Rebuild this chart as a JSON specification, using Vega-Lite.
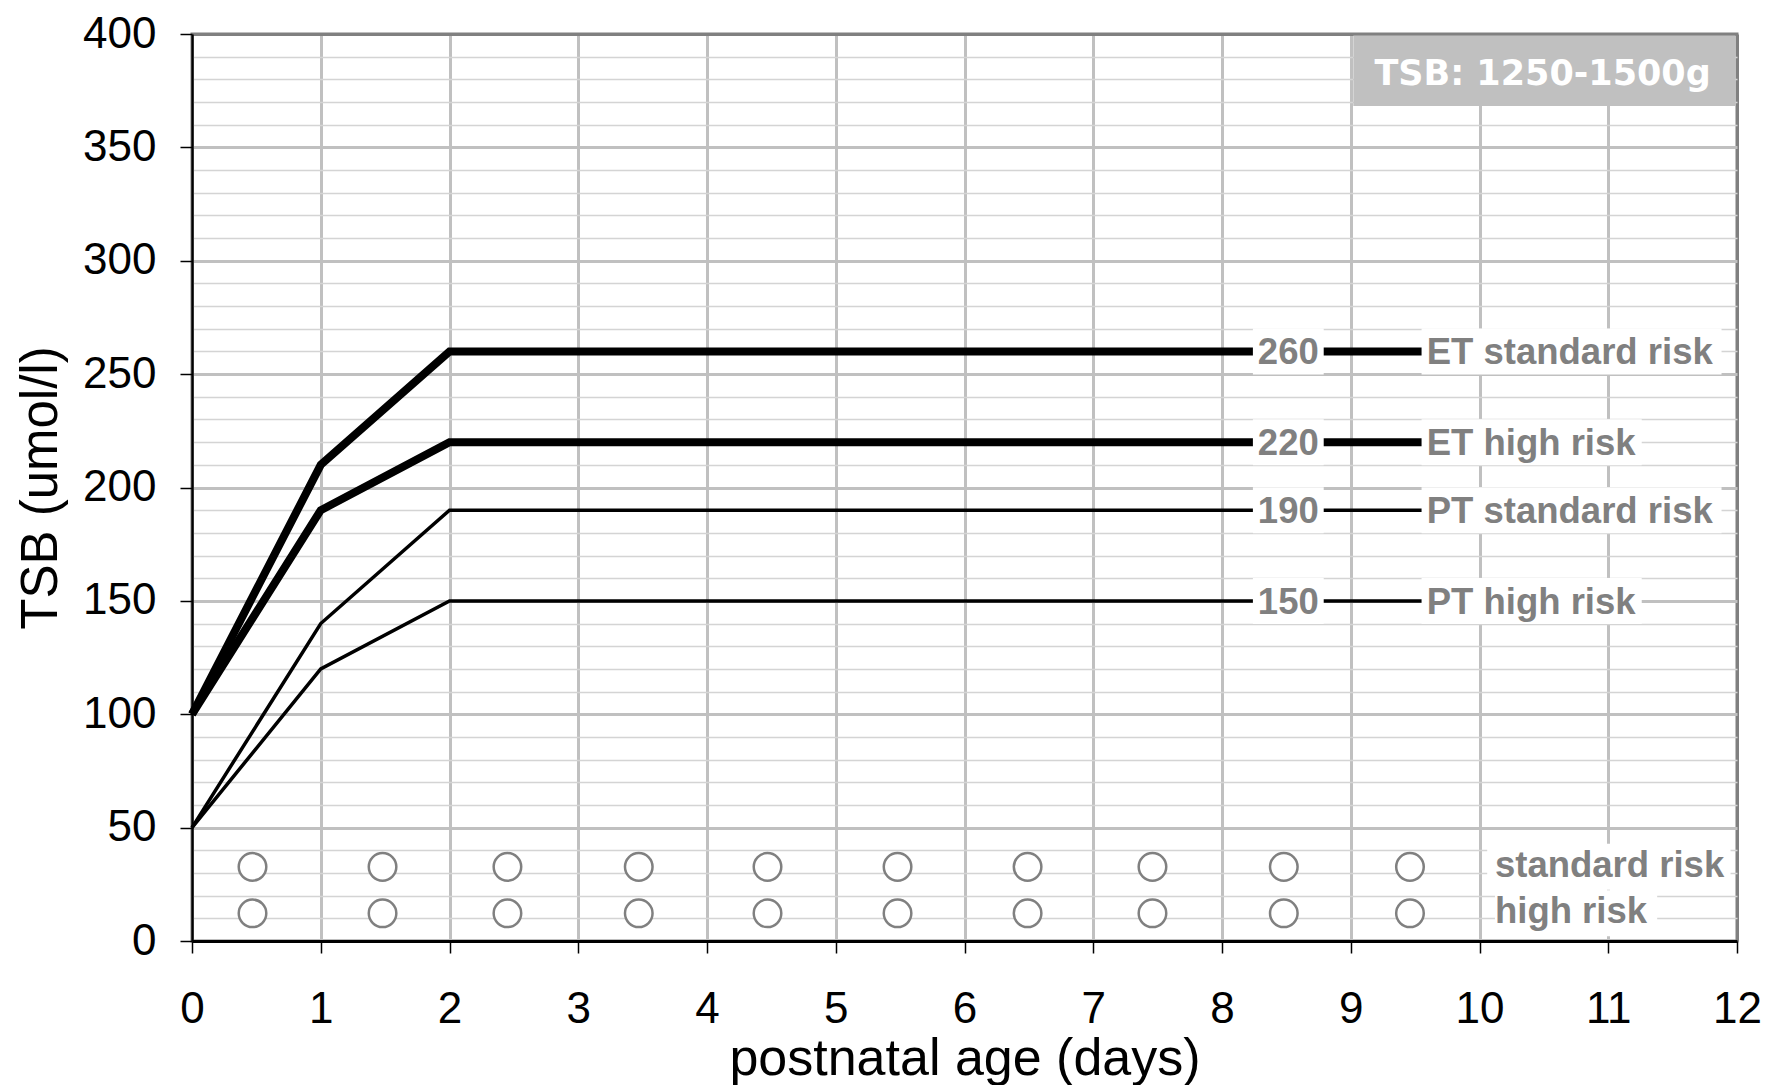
{
  "$schema": "https://vega.github.io/schema/vega-lite/v6.json",
  "width": 1545,
  "height": 907,
  "autosize": {"type": "none"},
  "padding": {"left": 192, "top": 34, "right": 34, "bottom": 144},
  "background": "white",
  "config": {
    "font": "Liberation Sans",
    "view": {"stroke": "#808080", "strokeWidth": 3},
    "text": {"font": "Liberation Sans", "fontWeight": "bold", "fontSize": 36.5, "color": "#808080"}
  },
  "datasets": {
    "curves": [
      {"series": "ET standard risk", "type": "ET", "day": 0, "tsb": 100},
      {"series": "ET standard risk", "type": "ET", "day": 1, "tsb": 210},
      {"series": "ET standard risk", "type": "ET", "day": 2, "tsb": 260},
      {"series": "ET standard risk", "type": "ET", "day": 10, "tsb": 260},
      {"series": "ET high risk", "type": "ET", "day": 0, "tsb": 100},
      {"series": "ET high risk", "type": "ET", "day": 1, "tsb": 190},
      {"series": "ET high risk", "type": "ET", "day": 2, "tsb": 220},
      {"series": "ET high risk", "type": "ET", "day": 10, "tsb": 220},
      {"series": "PT standard risk", "type": "PT", "day": 0, "tsb": 50},
      {"series": "PT standard risk", "type": "PT", "day": 1, "tsb": 140},
      {"series": "PT standard risk", "type": "PT", "day": 2, "tsb": 190},
      {"series": "PT standard risk", "type": "PT", "day": 10, "tsb": 190},
      {"series": "PT high risk", "type": "PT", "day": 0, "tsb": 50},
      {"series": "PT high risk", "type": "PT", "day": 1, "tsb": 120},
      {"series": "PT high risk", "type": "PT", "day": 2, "tsb": 150},
      {"series": "PT high risk", "type": "PT", "day": 10, "tsb": 150}
    ],
    "markers": [
      {"risk": "standard risk", "day": 0.47, "tsb": 32.7},
      {"risk": "standard risk", "day": 1.48, "tsb": 32.7},
      {"risk": "standard risk", "day": 2.45, "tsb": 32.7},
      {"risk": "standard risk", "day": 3.47, "tsb": 32.7},
      {"risk": "standard risk", "day": 4.47, "tsb": 32.7},
      {"risk": "standard risk", "day": 5.48, "tsb": 32.7},
      {"risk": "standard risk", "day": 6.49, "tsb": 32.7},
      {"risk": "standard risk", "day": 7.46, "tsb": 32.7},
      {"risk": "standard risk", "day": 8.48, "tsb": 32.7},
      {"risk": "standard risk", "day": 9.46, "tsb": 32.7},
      {"risk": "high risk", "day": 0.47, "tsb": 12.2},
      {"risk": "high risk", "day": 1.48, "tsb": 12.2},
      {"risk": "high risk", "day": 2.45, "tsb": 12.2},
      {"risk": "high risk", "day": 3.47, "tsb": 12.2},
      {"risk": "high risk", "day": 4.47, "tsb": 12.2},
      {"risk": "high risk", "day": 5.48, "tsb": 12.2},
      {"risk": "high risk", "day": 6.49, "tsb": 12.2},
      {"risk": "high risk", "day": 7.46, "tsb": 12.2},
      {"risk": "high risk", "day": 8.48, "tsb": 12.2},
      {"risk": "high risk", "day": 9.46, "tsb": 12.2}
    ],
    "chartTitle": [{"label": "TSB: 1250-1500g"}]
  },
  "layer": [
    {
      "data": {"name": "curves"},
      "mark": {"type": "line", "color": "black", "strokeJoin": "miter", "strokeCap": "butt"},
      "encoding": {
        "x": {
          "field": "day", "type": "quantitative",
          "scale": {"domain": [0, 12], "nice": false, "zero": false},
          "axis": {
            "title": "postnatal age (days)",
            "values": [0, 1, 2, 3, 4, 5, 6, 7, 8, 9, 10, 11, 12],
            "tickCount": 100,
            "format": "d",
            "titleFont": "Liberation Sans", "titleFontSize": 52, "titleFontWeight": "normal", "titleColor": "black", "titlePadding": 2,
            "labelFont": "Liberation Sans", "labelFontSize": 44, "labelColor": "black", "labelPadding": 34,
            "labelFlush": false, "labelOverlap": false,
            "tickSize": 12, "tickColor": "black", "tickWidth": 1.5,
            "domainColor": "black", "domainWidth": 3,
            "grid": true,
            "gridColor": {"condition": {"test": "datum.value === 12", "value": "#808080"}, "value": "#c0c0c0"},
            "gridWidth": 3
          }
        },
        "y": {
          "field": "tsb", "type": "quantitative",
          "scale": {"domain": [0, 400], "nice": false, "zero": true},
          "axis": {
            "title": "TSB (umol/l)",
            "values": [0, 10, 20, 30, 40, 50, 60, 70, 80, 90, 100, 110, 120, 130, 140, 150, 160, 170, 180, 190, 200, 210, 220, 230, 240, 250, 260, 270, 280, 290, 300, 310, 320, 330, 340, 350, 360, 370, 380, 390, 400],
            "tickCount": 100,
            "format": "d",
            "labelExpr": "datum.value % 50 === 0 ? datum.label : ''",
            "titleFont": "Liberation Sans", "titleFontSize": 51, "titleFontWeight": "normal", "titleColor": "black", "titlePadding": 15,
            "labelFont": "Liberation Sans", "labelFontSize": 44, "labelColor": "black", "labelPadding": 24,
            "labelFlush": false, "labelOverlap": false,
            "tickSize": 12, "tickColor": "black", "tickWidth": 1.5,
            "tickOpacity": {"condition": {"test": "datum.value % 50 !== 0", "value": 0}, "value": 1},
            "domainColor": "black", "domainWidth": 2.5,
            "grid": true,
            "gridColor": {"condition": [{"test": "datum.value === 400", "value": "#808080"}, {"test": "datum.value % 50 === 0", "value": "#c0c0c0"}], "value": "#d4d4d4"},
            "gridWidth": {"condition": {"test": "datum.value % 50 === 0", "value": 3}, "value": 1.5}
          }
        },
        "detail": {"field": "series", "type": "nominal"},
        "strokeWidth": {"condition": {"test": "datum.type === 'ET'", "value": 8}, "value": 3.5}
      }
    },
    {
      "data": {"name": "curves"},
      "transform": [{"filter": "datum.day === 10"}],
      "mark": {"type": "rule", "color": "white", "strokeWidth": 46, "strokeCap": "butt"},
      "encoding": {
        "x": {"datum": 8.24, "type": "quantitative"},
        "x2": {"datum": 8.79},
        "y": {"field": "tsb", "type": "quantitative"}
      }
    },
    {
      "data": {"name": "curves"},
      "transform": [{"filter": "datum.day === 10 && indexof(datum.series, 'standard') >= 0"}],
      "mark": {"type": "rule", "color": "white", "strokeWidth": 46, "strokeCap": "butt"},
      "encoding": {
        "x": {"datum": 9.55, "type": "quantitative"},
        "x2": {"datum": 11.88},
        "y": {"field": "tsb", "type": "quantitative"}
      }
    },
    {
      "data": {"name": "curves"},
      "transform": [{"filter": "datum.day === 10 && indexof(datum.series, 'high') >= 0"}],
      "mark": {"type": "rule", "color": "white", "strokeWidth": 46, "strokeCap": "butt"},
      "encoding": {
        "x": {"datum": 9.55, "type": "quantitative"},
        "x2": {"datum": 11.26},
        "y": {"field": "tsb", "type": "quantitative"}
      }
    },
    {
      "data": {"name": "curves"},
      "transform": [{"filter": "datum.day === 10"}],
      "mark": {"type": "text", "align": "center", "baseline": "middle", "dy": 2},
      "encoding": {
        "x": {"datum": 8.515, "type": "quantitative"},
        "y": {"field": "tsb", "type": "quantitative"},
        "text": {"field": "tsb", "type": "quantitative"}
      }
    },
    {
      "data": {"name": "curves"},
      "transform": [{"filter": "datum.day === 10"}],
      "mark": {"type": "text", "align": "left", "baseline": "middle", "dy": 2},
      "encoding": {
        "x": {"datum": 9.59, "type": "quantitative"},
        "y": {"field": "tsb", "type": "quantitative"},
        "text": {"field": "series", "type": "nominal"}
      }
    },
    {
      "data": {"name": "markers"},
      "transform": [{"filter": "datum.day > 9 && datum.risk === 'standard risk'"}],
      "mark": {"type": "rule", "color": "white", "strokeWidth": 46, "strokeCap": "butt"},
      "encoding": {
        "x": {"datum": 10.06, "type": "quantitative"},
        "x2": {"datum": 11.95},
        "y": {"field": "tsb", "type": "quantitative"}
      }
    },
    {
      "data": {"name": "markers"},
      "transform": [{"filter": "datum.day > 9 && datum.risk === 'high risk'"}],
      "mark": {"type": "rule", "color": "white", "strokeWidth": 46, "strokeCap": "butt"},
      "encoding": {
        "x": {"datum": 10.12, "type": "quantitative"},
        "x2": {"datum": 11.38},
        "y": {"field": "tsb", "type": "quantitative"}
      }
    },
    {
      "data": {"name": "markers"},
      "transform": [{"filter": "datum.day > 9"}],
      "mark": {"type": "text", "align": "left", "baseline": "middle", "dy": -1},
      "encoding": {
        "x": {"datum": 10.12, "type": "quantitative"},
        "y": {"field": "tsb", "type": "quantitative"},
        "text": {"field": "risk", "type": "nominal"}
      }
    },
    {
      "data": {"name": "markers"},
      "mark": {"type": "point", "shape": "circle", "size": 760, "filled": true, "fill": "white", "stroke": "#808080", "strokeWidth": 2.5, "opacity": 1},
      "encoding": {
        "x": {"field": "day", "type": "quantitative"},
        "y": {"field": "tsb", "type": "quantitative"}
      }
    },
    {
      "data": {"name": "chartTitle"},
      "mark": {"type": "rect", "color": "#c0c0c0"},
      "encoding": {
        "x": {"datum": 9.02, "type": "quantitative"},
        "x2": {"datum": 11.988},
        "y": {"datum": 368.2, "type": "quantitative"},
        "y2": {"datum": 399.3}
      }
    },
    {
      "data": {"name": "chartTitle"},
      "mark": {"type": "text", "align": "center", "baseline": "alphabetic", "font": "DejaVu Sans", "fontWeight": "bold", "fontSize": 35, "color": "white"},
      "encoding": {
        "x": {"datum": 10.49, "type": "quantitative"},
        "y": {"datum": 377.6, "type": "quantitative"},
        "text": {"field": "label", "type": "nominal"}
      }
    }
  ]
}
